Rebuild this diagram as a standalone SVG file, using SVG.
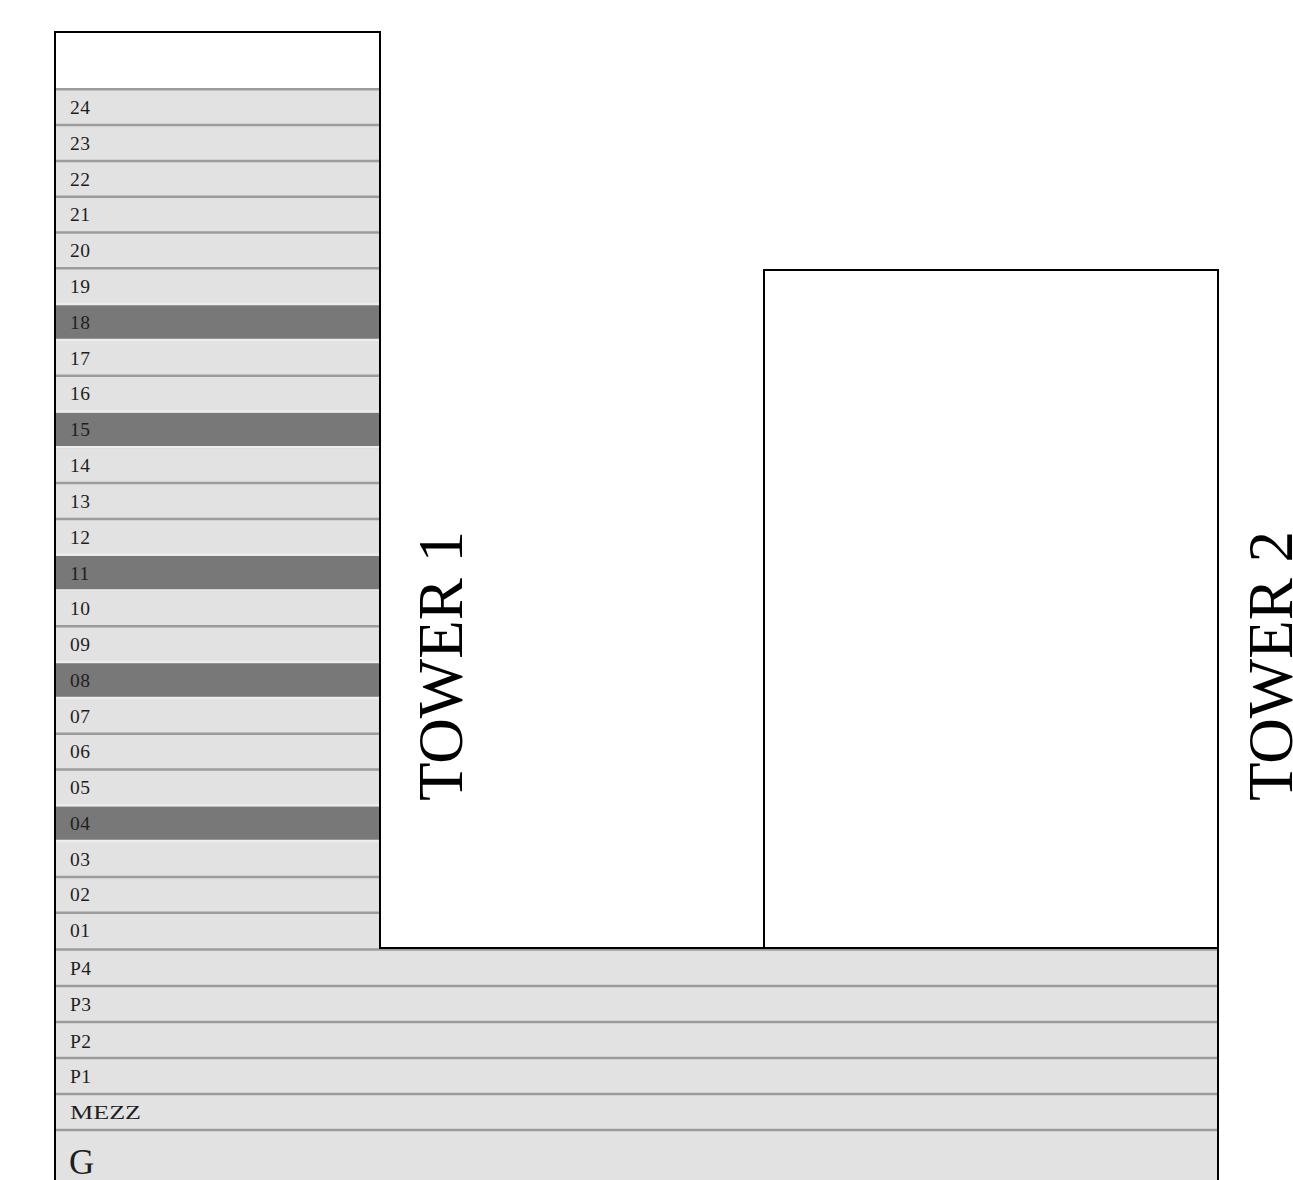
<svg xmlns="http://www.w3.org/2000/svg" width="1293" height="1180" viewBox="0 0 1293 1180">
<style>
.fl{fill:#e2e2e2}
.dk{fill:#787878}
.sep{stroke:#9c9c9c;stroke-width:2.5}
.sepl{stroke:#ececec;stroke-width:2.5}
.ol{fill:none;stroke:#000;stroke-width:2}
.lb{font-family:"Liberation Serif",serif;font-size:19.5px;letter-spacing:0.5px;fill:#1e1e1e}
.tw{font-family:"Liberation Serif",serif;font-size:63px;fill:#000}
</style>
<rect width="1293" height="1180" fill="#fff"/>
<g id="floors">
<rect class="fl" x="55" y="89" width="325" height="859"/>
<rect class="dk" x="55" y="305" width="325" height="35.8"/>
<rect class="dk" x="55" y="412.4" width="325" height="35.8"/>
<rect class="dk" x="55" y="555.6" width="325" height="35.8"/>
<rect class="dk" x="55" y="663" width="325" height="35.8"/>
<rect class="dk" x="55" y="806.2" width="325" height="35.8"/>
<rect class="fl" x="55" y="948" width="1163" height="232"/>
</g>
<g id="separators">
<line class="sep" x1="55" y1="89.3" x2="380" y2="89.3"/>
<line class="sep" x1="55" y1="125.1" x2="380" y2="125.1"/>
<line class="sep" x1="55" y1="160.9" x2="380" y2="160.9"/>
<line class="sep" x1="55" y1="196.7" x2="380" y2="196.7"/>
<line class="sep" x1="55" y1="232.5" x2="380" y2="232.5"/>
<line class="sep" x1="55" y1="268.3" x2="380" y2="268.3"/>
<line class="sepl" x1="55" y1="304.1" x2="380" y2="304.1"/>
<line class="sepl" x1="55" y1="339.9" x2="380" y2="339.9"/>
<line class="sep" x1="55" y1="375.7" x2="380" y2="375.7"/>
<line class="sepl" x1="55" y1="411.5" x2="380" y2="411.5"/>
<line class="sepl" x1="55" y1="447.3" x2="380" y2="447.3"/>
<line class="sep" x1="55" y1="483.1" x2="380" y2="483.1"/>
<line class="sep" x1="55" y1="518.9" x2="380" y2="518.9"/>
<line class="sepl" x1="55" y1="554.7" x2="380" y2="554.7"/>
<line class="sepl" x1="55" y1="590.5" x2="380" y2="590.5"/>
<line class="sep" x1="55" y1="626.3" x2="380" y2="626.3"/>
<line class="sepl" x1="55" y1="662.1" x2="380" y2="662.1"/>
<line class="sepl" x1="55" y1="697.9" x2="380" y2="697.9"/>
<line class="sep" x1="55" y1="733.7" x2="380" y2="733.7"/>
<line class="sep" x1="55" y1="769.5" x2="380" y2="769.5"/>
<line class="sepl" x1="55" y1="805.3" x2="380" y2="805.3"/>
<line class="sepl" x1="55" y1="841.1" x2="380" y2="841.1"/>
<line class="sep" x1="55" y1="876.9" x2="380" y2="876.9"/>
<line class="sep" x1="55" y1="912.7" x2="380" y2="912.7"/>
<line class="sep" x1="55" y1="949.5" x2="1218" y2="949.5"/>
<line class="sep" x1="55" y1="986" x2="1218" y2="986"/>
<line class="sep" x1="55" y1="1022" x2="1218" y2="1022"/>
<line class="sep" x1="55" y1="1058" x2="1218" y2="1058"/>
<line class="sep" x1="55" y1="1094" x2="1218" y2="1094"/>
<line class="sep" x1="55" y1="1130" x2="1218" y2="1130"/>
</g>
<g id="outlines">
<polyline class="ol" points="55,1180 55,32 380,32 380,948 764,948"/>
<polyline class="ol" points="764,948 764,270 1218,270 1218,1180"/>
<line class="ol" x1="764" y1="948" x2="1218" y2="948"/>
</g>
<g id="labels">
<text class="lb" x="70" y="114">24</text>
<text class="lb" x="70" y="150">23</text>
<text class="lb" x="70" y="186">22</text>
<text class="lb" x="70" y="221">21</text>
<text class="lb" x="70" y="257">20</text>
<text class="lb" x="70" y="293">19</text>
<text class="lb" x="70" y="329">18</text>
<text class="lb" x="70" y="365">17</text>
<text class="lb" x="70" y="400">16</text>
<text class="lb" x="70" y="436">15</text>
<text class="lb" x="70" y="472">14</text>
<text class="lb" x="70" y="508">13</text>
<text class="lb" x="70" y="544">12</text>
<text class="lb" x="70" y="580">11</text>
<text class="lb" x="70" y="615">10</text>
<text class="lb" x="70" y="651">09</text>
<text class="lb" x="70" y="687">08</text>
<text class="lb" x="70" y="723">07</text>
<text class="lb" x="70" y="758">06</text>
<text class="lb" x="70" y="794">05</text>
<text class="lb" x="70" y="830">04</text>
<text class="lb" x="70" y="866">03</text>
<text class="lb" x="70" y="901">02</text>
<text class="lb" x="70" y="937">01</text>
<text class="lb" x="70" y="975">P4</text>
<text class="lb" x="70" y="1011">P3</text>
<text class="lb" x="70" y="1048">P2</text>
<text class="lb" x="70" y="1083">P1</text>
<text class="lb" x="70" y="1119" textLength="71" lengthAdjust="spacingAndGlyphs" style="letter-spacing:0">MEZZ</text>
<text class="lb" x="69" y="1174" style="font-size:35px;letter-spacing:0">G</text>
</g>
<g id="tower1">
<text class="tw" transform="translate(462,801) rotate(-90)">TOWER 1</text>
</g>
<g id="tower2">
<text class="tw" transform="translate(1292,801) rotate(-90)">TOWER 2</text>
</g>
</svg>
